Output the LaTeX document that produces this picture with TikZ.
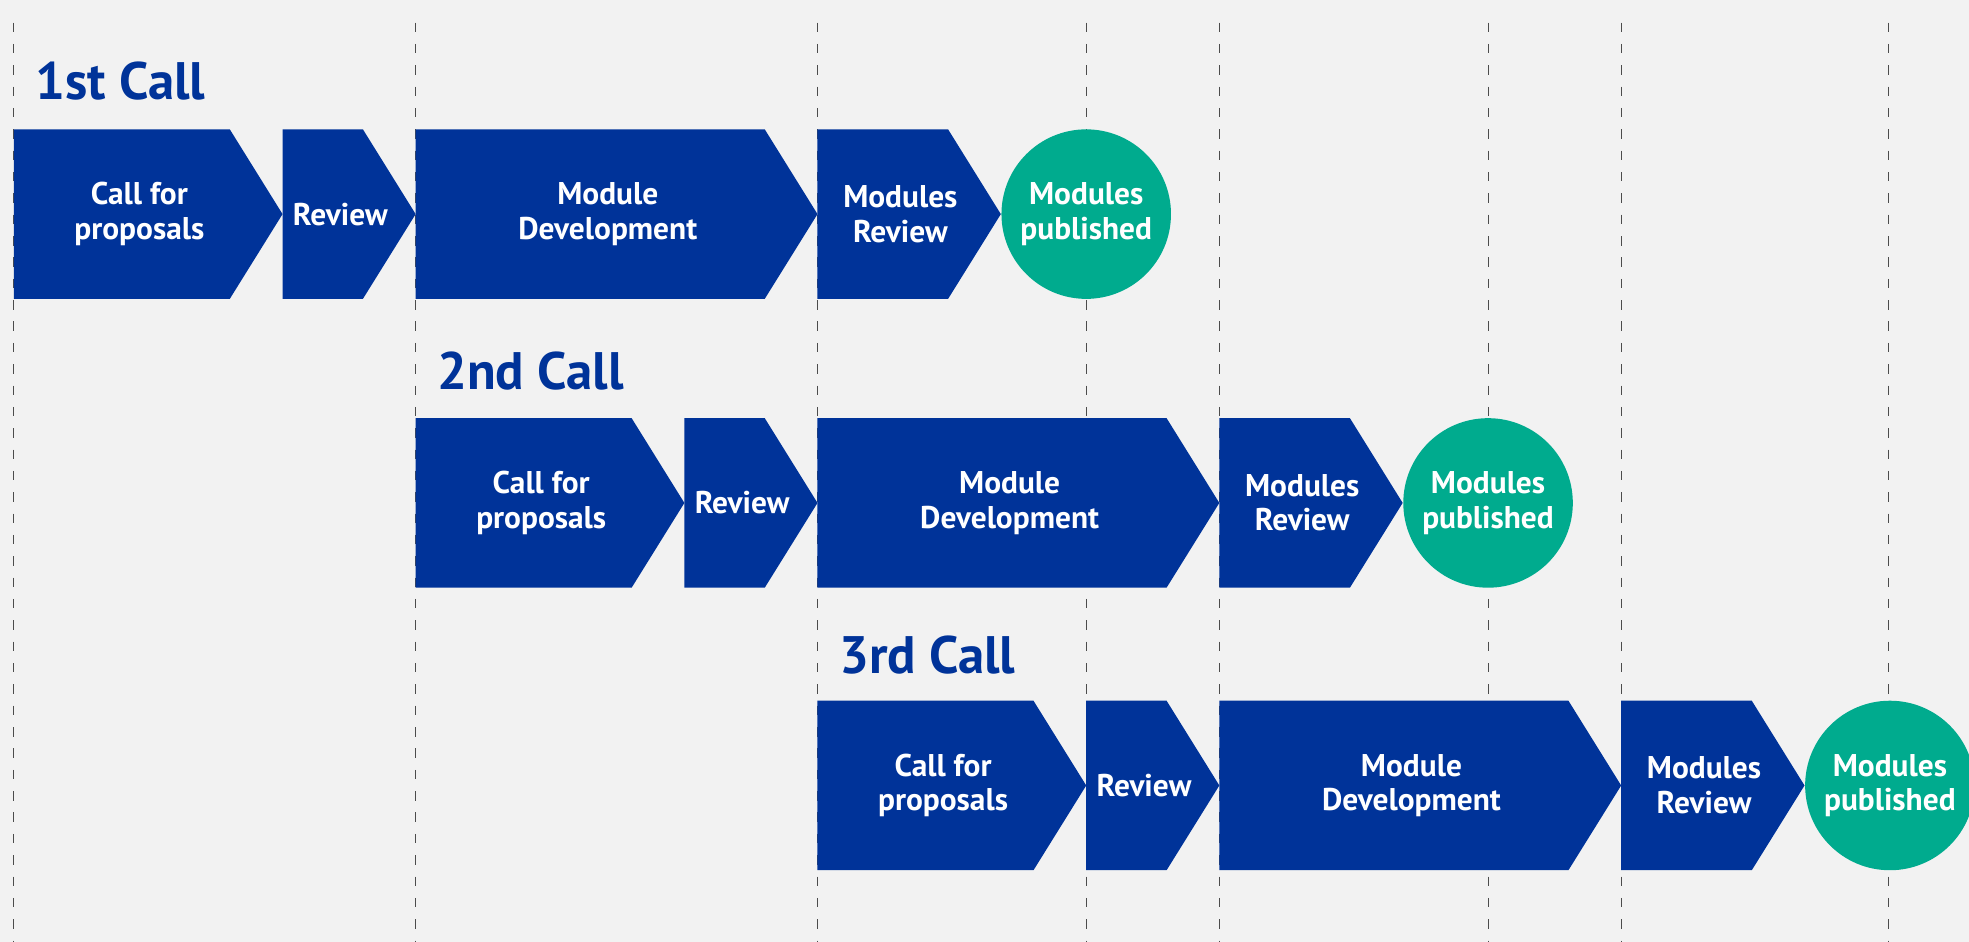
\documentclass[tikz,border=0pt]{standalone}
\usepackage{fontspec}
\setmainfont{PT Sans}
\definecolor{bgcol}{HTML}{F2F2F2}
\definecolor{navy}{HTML}{003399}
\definecolor{pubgreen}{HTML}{00AB8E}
\newcommand\chevstep[6]{% name, left, flat end, tip, y centre, text
  \fill[navy] (#2,#5-67.5) -- (#3,#5-67.5) -- (#4,#5) -- (#3,#5+67.5) -- (#2,#5+67.5) -- cycle;
  \node[lbl] (#1) at ({(#2+#4-14)/2},#5) {#6};
}
\newcommand\pubcircle[4]{% name, x, y, text
  \fill[pubgreen] (#2,#3) circle[radius=67.5];
  \node[lbl] (#1) at (#2,#3) {#4};
}
\begin{document}
\begin{tikzpicture}[x=1pt,y=-1pt,
  lbl/.style={text=white, font=\bfseries\fontsize{25}{27.5}\selectfont, align=center, inner sep=0pt},
  calltitle/.style={text=navy, font=\bfseries\fontsize{42}{42}\selectfont, anchor=base west, inner sep=0pt},
  guide/.style={draw=black!70, line width=0.8pt, dash pattern=on 7.5pt off 9.5pt}]
\fill[bgcol] (0,0) rectangle (1568,750);
\useasboundingbox (0,0) rectangle (1568,750);
\clip (0,0) rectangle (1568,750);
% guide lines
\foreach \gx [count=\i] in {11,331,651,865,971,1185,1291,1504} {
  \coordinate (gt\i) at (\gx,18);
  \coordinate (gb\i) at (\gx,750);
  \draw[guide] (gt\i) -- (gb\i);
}
% titles
\node[calltitle] (t1) at (28,79) {1st Call};
\node[calltitle] (t2) at (348,310) {2nd Call};
\node[calltitle] (t3) at (668,536) {3rd Call};
% row 1
\chevstep{a1}{11}{183}{225}{170.5}{Call for\\proposals}
\chevstep{a2}{225}{289}{331}{170.5}{Review}
\chevstep{a3}{331}{609}{651}{170.5}{Module\\Development}
\chevstep{a4}{651}{755}{797}{170.5}{Modules\\Review}
\pubcircle{a5}{865}{170.5}{Modules\\published}
% row 2
\chevstep{b1}{331}{503}{545}{400.5}{Call for\\proposals}
\chevstep{b2}{545}{609}{651}{400.5}{Review}
\chevstep{b3}{651}{929}{971}{400.5}{Module\\Development}
\chevstep{b4}{971}{1075}{1117}{400.5}{Modules\\Review}
\pubcircle{b5}{1185}{400.5}{Modules\\published}
% row 3
\chevstep{c1}{651}{823}{865}{625.5}{Call for\\proposals}
\chevstep{c2}{865}{929}{971}{625.5}{Review}
\chevstep{c3}{971}{1249}{1291}{625.5}{Module\\Development}
\chevstep{c4}{1291}{1395}{1437}{625.5}{Modules\\Review}
\pubcircle{c5}{1505}{625.5}{Modules\\published}
\end{tikzpicture}
\end{document}
